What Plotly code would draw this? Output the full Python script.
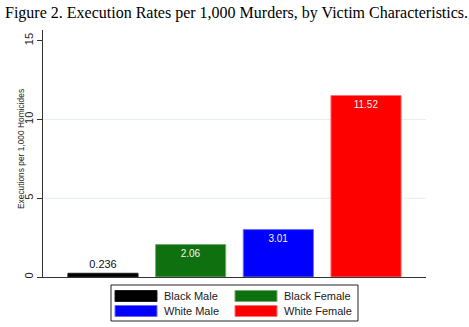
import plotly.graph_objects as go

# ---- data ----
groups = ["Black Male", "Black Female", "White Male", "White Female"]
rates = [0.236, 2.06, 3.01, 11.52]
labels = ["0.236", "2.06", "3.01", "11.52"]
colors = ["#000000", "#0e700e", "#0000ff", "#fd0000"]
edge_colors = ["#202020", "#6fb06f", "#6a6aff", "#ff7070"]
y_ticks = [0, 5, 10, 15]
grid_vals = [5, 10]

W, H = 469, 327
L, R, T, B = 43, 43, 30, 50
pw, ph = W - L - R, H - T - B

def px_x(px):
    return (px - L) / pw

def px_y(py):
    return (H - B - py) / ph

fig = go.Figure()
for i, (g, v, lab, c, ec) in enumerate(zip(groups, rates, labels, colors, edge_colors)):
    outside = v < 1
    fig.add_trace(go.Bar(
        x=[i], y=[v], width=0.8, name=g,
        marker=dict(color=c, line=dict(color=ec, width=1)),
        text=[lab],
        textposition="outside" if outside else "inside",
        insidetextanchor="end",
        textfont=dict(family="Liberation Sans, Arial", size=11 if outside else 10,
                      color="#111111" if outside else "#f4f4f4"),
        constraintext="none",
        cliponaxis=False,
        showlegend=False,
        hoverinfo="skip",
    ))

shapes = []
for gv in grid_vals:
    shapes.append(dict(type="line", xref="paper", yref="y", x0=0, x1=1, y0=gv, y1=gv,
                       line=dict(color="#e6eef0", width=1), layer="below"))

# manual legend (Stata-style wide swatches)
leg_x0, leg_x1, leg_y0, leg_y1 = 111, 358, 285, 321
shapes.append(dict(type="rect", xref="paper", yref="paper",
                   x0=px_x(leg_x0), x1=px_x(leg_x1), y0=px_y(leg_y1), y1=px_y(leg_y0),
                   line=dict(color="#222222", width=1), fillcolor="white"))
annotations = []
col_sw = [115, 235]
row_y = [296, 311]
for k, (g, c, ec) in enumerate(zip(groups, colors, edge_colors)):
    r, col = divmod(k, 2)
    sx = col_sw[col]
    cy = row_y[r]
    shapes.append(dict(type="rect", xref="paper", yref="paper",
                       x0=px_x(sx), x1=px_x(sx + 42), y0=px_y(cy + 5.5), y1=px_y(cy - 5.5),
                       line=dict(color=ec, width=1), fillcolor=c))
    annotations.append(dict(xref="paper", yref="paper", x=px_x(sx + 47), y=px_y(cy),
                            text=g, showarrow=False, xanchor="left", yanchor="middle",
                            font=dict(family="Liberation Sans, Arial", size=11, color="#1a1a1a")))

annotations.append(dict(xref="paper", yref="paper", x=px_x(3), y=px_y(13),
                        text="Figure 2. Execution Rates per 1,000 Murders, by Victim Characteristics.",
                        showarrow=False, xanchor="left", yanchor="middle",
                        font=dict(family="Liberation Serif, Times New Roman", size=16, color="#000000")))

# y-axis title
annotations.append(dict(xref="paper", yref="paper", x=px_x(21), y=px_y(149),
                        text="Executions per 1,000 Homicides", textangle=-90,
                        showarrow=False, xanchor="center", yanchor="middle",
                        font=dict(family="Liberation Sans, Arial", size=8.4, color="#222222")))

fig.update_layout(
    width=W, height=H,
    margin=dict(l=L, r=R, t=T, b=B, pad=0),
    paper_bgcolor="white", plot_bgcolor="white",
    barmode="overlay",
    showlegend=False,
    shapes=shapes,
    annotations=annotations,
    xaxis=dict(range=[-0.684, 3.684], showticklabels=False, ticks="", showgrid=False,
               zeroline=False, showline=True, linecolor="#333333", linewidth=1, fixedrange=True),
    yaxis=dict(range=[0, 15.68], tickvals=y_ticks, ticktext=[str(v) for v in y_ticks],
               tickangle=-90, ticks="outside", ticklen=5, tickcolor="#333333",
               tickfont=dict(family="Liberation Sans, Arial", size=11, color="#222222"),
               showgrid=False, zeroline=False, showline=True, linecolor="#333333", linewidth=1),
)

fig.write_html("out.html")
